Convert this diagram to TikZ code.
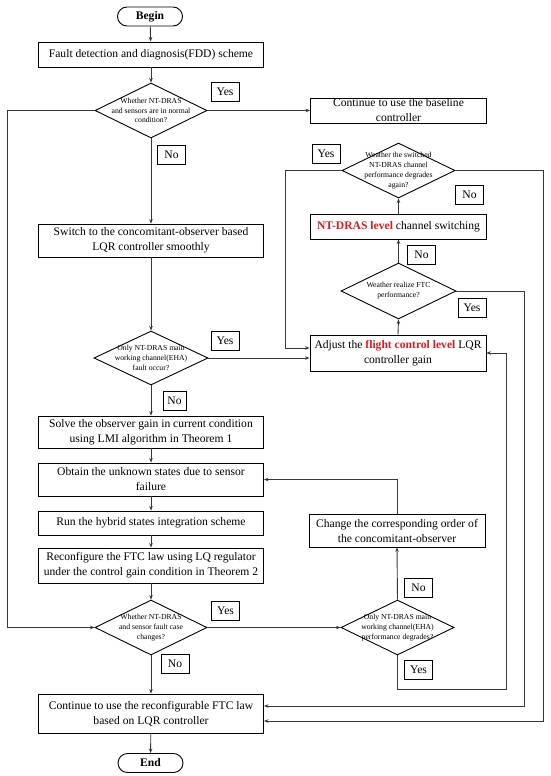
\documentclass[tikz,border=0pt]{standalone}
\usepackage{fontspec}
\setmainfont{Liberation Serif}
\usetikzlibrary{shapes.geometric,arrows.meta}
\definecolor{ftred}{RGB}{225,25,30}
\definecolor{lncol}{RGB}{55,55,55}
\begin{document}
\begin{tikzpicture}[x=1pt,y=-1pt,
  box/.style={draw=black,line width=0.9pt,rectangle,inner sep=0pt,minimum width=225pt,align=center,font=\fontsize{11.6}{15}\selectfont},
  rbox/.style={box,minimum width=176pt},
  term/.style={draw=black,line width=0.9pt,rounded corners=9.5pt,minimum width=65pt,minimum height=19pt,inner sep=0pt,font=\fontsize{11.6}{14}\selectfont\bfseries},
  dia/.style={draw=black,line width=0.9pt,diamond,inner sep=0pt,minimum width=113pt,minimum height=55pt},
  dtext/.style={align=center,inner sep=0pt,font=\fontsize{7.7}{9.8}\selectfont},
  lab/.style={draw=black,line width=0.9pt,minimum width=28pt,minimum height=19pt,inner sep=0pt,font=\fontsize{11.6}{14}\selectfont},
  conn/.style={draw=lncol,line width=0.9pt,-{Stealth[length=4.5pt,width=3.5pt]}}
]
\useasboundingbox (0,0) rectangle (550,776);
% left column
\node[term] (begin) at (150,16.5) {Begin};
\node[box,minimum height=25pt] (fdd) at (151,54.5) {Fault detection and diagnosis(FDD) scheme};
\node[dia,minimum width=112pt] (d1) at (151,110.5) {};
\node[dtext] (d1t) at (d1.center) {Whether NT-DRAS\\and sensors are in normal\\condition?};
\node[lab] (y1) at (225,92) {Yes};
\node[lab] (n1) at (171.5,155) {No};
\node[rbox,minimum height=25pt] (base) at (398.5,110.5) {Continue to use the baseline\\controller};
\node[box,minimum height=33pt] (switch) at (151,240.5) {Switch to the concomitant-observer based\\LQR controller smoothly};
\node[dia,minimum width=114pt,minimum height=54pt] (d2) at (151,358) {};
\node[dtext] (d2t) at (d2.center) {Only NT-DRAS main\\working channel(EHA)\\fault occur?};
\node[lab] (y2) at (225,340.5) {Yes};
\node[lab,minimum width=23pt] (n2) at (174.5,401) {No};
\node[box,minimum height=32pt] (solve) at (151,432) {Solve the observer gain in current condition\\using LMI algorithm in Theorem 1};
\node[box,minimum height=33pt] (obtain) at (151,479.5) {Obtain the unknown states due to sensor\\failure};
\node[box,minimum height=24pt] (run) at (151,523) {Run the hybrid states integration scheme};
\node[box,minimum height=35pt] (reconf) at (151,565.5) {Reconfigure the FTC law using LQ regulator\\under the control gain condition in Theorem 2};
\node[dia,minimum width=112pt] (d5) at (151,627.5) {};
\node[dtext] (d5t) at (d5.center) {Whether NT-DRAS\\and sensor fault case\\changes?};
\node[lab] (y5) at (225.5,611) {Yes};
\node[lab] (n5) at (175,664) {No};
\node[box,minimum height=39pt] (ftc) at (151,713.5) {Continue to use the reconfigurable FTC law\\based on LQR controller};
\node[term] (fin) at (150.5,763) {End};
% right column
\node[dia] (dsw) at (398.5,170.5) {};
\node[dtext] (dswt) at (dsw.center) {Weather the switched\\NT-DRAS channel\\performance degrades\\again?};
\node[lab] (ysw) at (326,154) {Yes};
\node[lab] (nsw) at (469.5,195) {No};
\node[rbox,minimum height=25pt] (sw) at (398.5,226.5) {\textcolor{ftred}{\textbf{NT-DRAS level}} channel switching};
\node[lab] (nft) at (421.5,255) {No};
\node[dia,minimum width=115pt,minimum height=56pt] (dftc) at (398.5,291) {};
\node[dtext] (dftct) at (dftc.center) {Weather realize FTC\\performance?};
\node[lab] (yft) at (472,307.5) {Yes};
\node[rbox,minimum height=36pt] (adj) at (398,353) {Adjust the \textcolor{ftred}{\textbf{flight control level}} LQR\\controller gain};
\node[rbox,minimum height=33pt] (chg) at (397,530.5) {Change the corresponding order of\\the concomitant-observer};
\node[lab] (n6) at (418.5,587.5) {No};
\node[dia,minimum width=113pt] (d6) at (397.5,627.5) {};
\node[dtext] (d6t) at (d6.center) {Only NT-DRAS main\\working channel(EHA)\\performance degrades?};
\node[lab] (y6) at (418.5,669.5) {Yes};
% routing coordinates
\coordinate (cL) at (7,0);
\coordinate (cA) at (285,0);
\coordinate (cB) at (506,0);
\coordinate (cC) at (524,0);
\coordinate (cD) at (543,0);
\coordinate (rowY) at (0,689);
\coordinate (adjW1) at ([yshift=5pt]adj.west);
\coordinate (ftcE1) at ([yshift=7.5pt]ftc.east);
\coordinate (ftcE2) at ([yshift=-7.5pt]ftc.east);
% connectors
\draw[conn] (begin) -- (fdd);
\draw[conn] (fdd) -- (d1);
\draw[conn] (d1.east) -- (base.west);
\draw[conn] (d1.south) -- (switch.north);
\draw[conn] (d1.west) -- (d1.west -| cL) -- (d5.west -| cL) -- (d5.west);
\draw[conn] (switch) -- (d2);
\draw[conn] (d2.east) -- (adj.west |- d2.east);
\draw[conn] (d2) -- (solve);
\draw[conn] (solve) -- (obtain);
\draw[conn] (obtain) -- (run);
\draw[conn] (run) -- (reconf);
\draw[conn] (reconf) -- (d5);
\draw[conn] (d5) -- (ftc);
\draw[conn] (ftc) -- (fin);
\draw[conn] (d5.east) -- (d6.west);
\draw[conn] (d6.north) -- (chg.south);
\draw[conn] (chg.north) |- (obtain.east);
\draw[conn] (d6.south) -- (d6.south |- rowY) -- (rowY -| cB) -- (adj.east -| cB) -- (adj.east);
\draw[conn] (adj.north) -- (dftc.south);
\draw[conn] (dftc.north) -- (sw.south);
\draw[conn] (sw.north) -- (dsw.south);
\draw[conn] (dsw.west) -- (dsw.west -| cA) -- (adjW1 -| cA) -- (adjW1);
\draw[conn] (dsw.east) -- (dsw.east -| cD) -- (ftcE2 -| cD) -- (ftcE2);
\draw[conn] (dftc.east) -- (dftc.east -| cC) -- (ftcE1 -| cC) -- (ftcE1);
\end{tikzpicture}
\end{document}
